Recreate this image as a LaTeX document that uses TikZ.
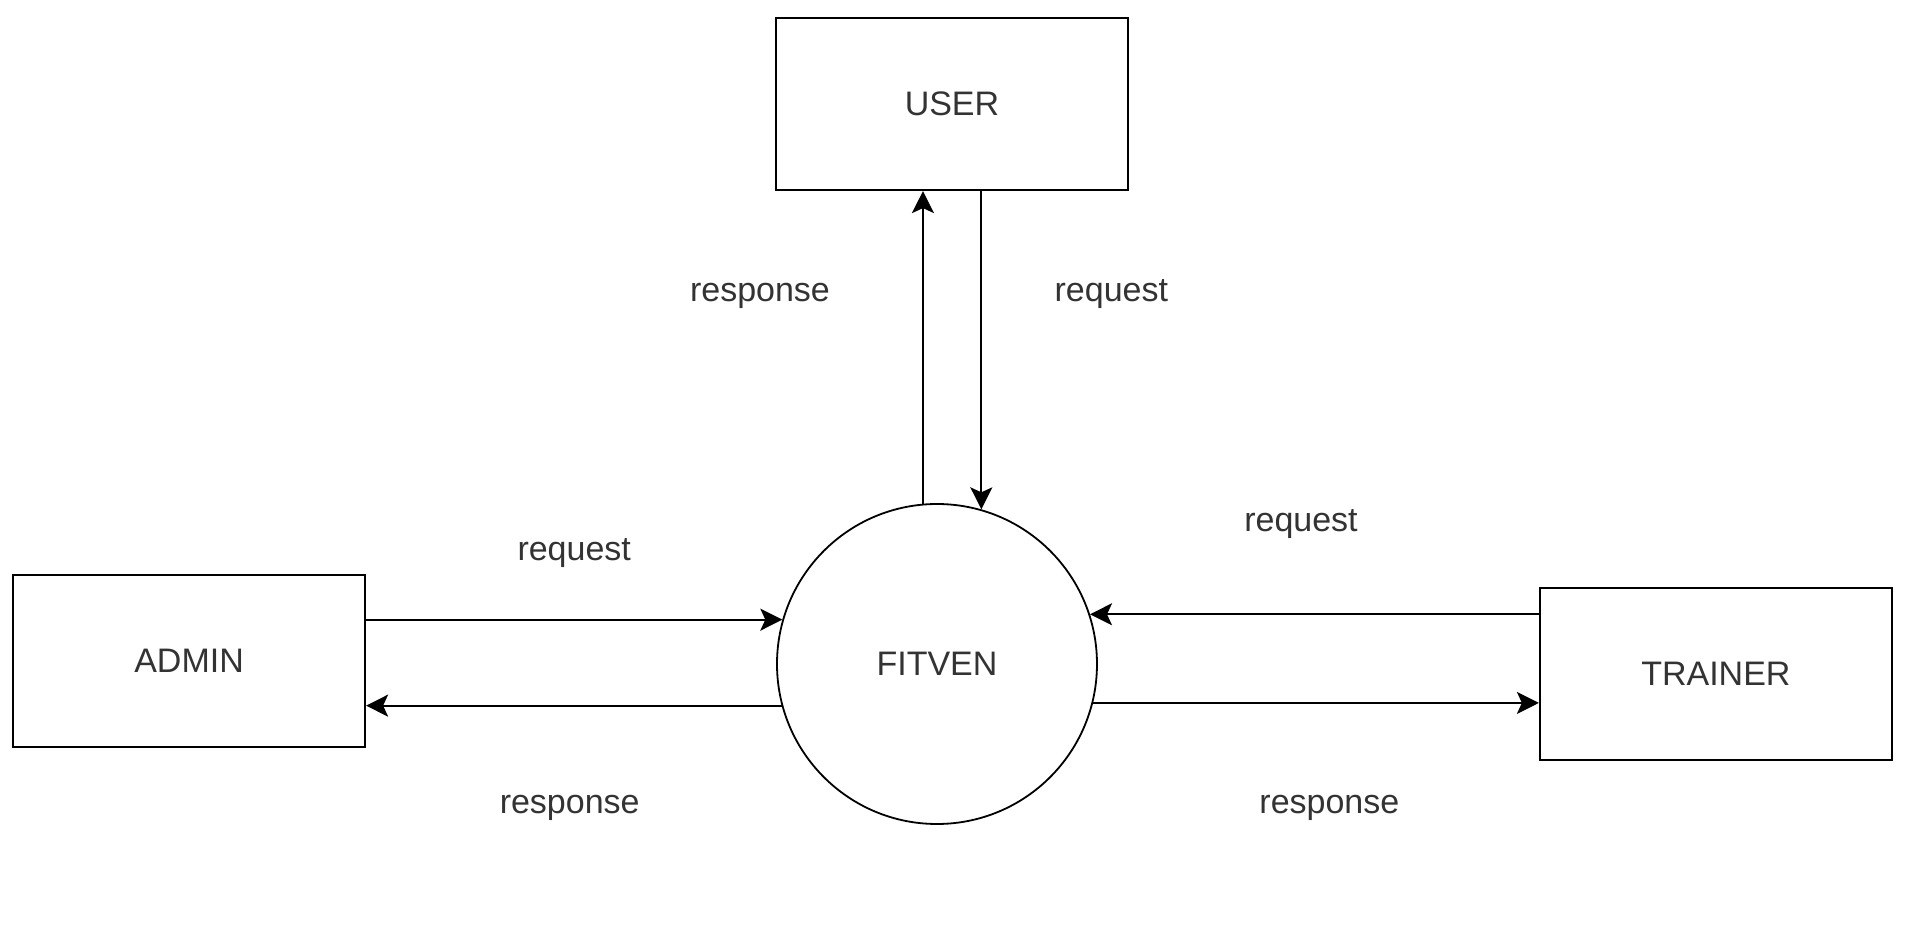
\documentclass[tikz,border=0pt]{standalone}
\usepackage{fontspec}
\setmainfont{Liberation Sans}
\usetikzlibrary{arrows.meta}
\usetikzlibrary{positioning}

\begin{document}
\begin{tikzpicture} [
    every node/.style={font=\fontsize{17}{20}\selectfont, text=black!80},
    process/.style={circle, draw=black, line width=0.9pt, minimum size=160pt, inner sep=0pt},
    entity/.style={rectangle, draw=black, line width=1pt, minimum width=176pt, minimum height=86pt},
    flow/.style={->, line width=1pt},
    lbl/.style={inner sep=0pt},
    >={Stealth[inset=2.5pt,length=11pt,width=11pt]}
    ]
    %Nodes
    \node[process]   (fitven)   {FITVEN};
    \node[entity]    (user)     [above=156pt of fitven, xshift=7.5pt] {USER};
    \node[entity]    (admin)    [left=205pt of fitven, yshift=1.5pt] {ADMIN};
    \node[entity]    (trainer)  [right=220.5pt of fitven, yshift=-5pt] {TRAINER};

    \useasboundingbox ([shift={(-468.5pt,332pt)}]fitven.center) rectangle ++(953pt,-473.5pt);

    %Lines
    \draw[flow] (fitven.95) -- (fitven.95 |- user.south) node[lbl, pos=0.69, xshift=-81.5pt, yshift=-4pt] {response};
    \draw[flow] (fitven.74 |- user.south) -- (fitven.74) node[lbl, pos=0.31, xshift=65pt, yshift=-2pt] {request};
    \draw[flow] (admin.east |- fitven.164) -- (fitven.164) node[lbl, pos=0.5, yshift=33.5pt] {request};
    \draw[flow] (fitven.195) -- (admin.east |- fitven.195) node[lbl, pos=0.51, yshift=-51pt] {response};
    \draw[flow] (trainer.west |- fitven.18) -- (fitven.18) node[lbl, pos=0.53, yshift=45pt] {request};
    \draw[flow] (fitven.-14) -- (trainer.west |- fitven.-14) node[lbl, pos=0.53, yshift=-52.5pt] {response};
\end{tikzpicture}
\end{document}
